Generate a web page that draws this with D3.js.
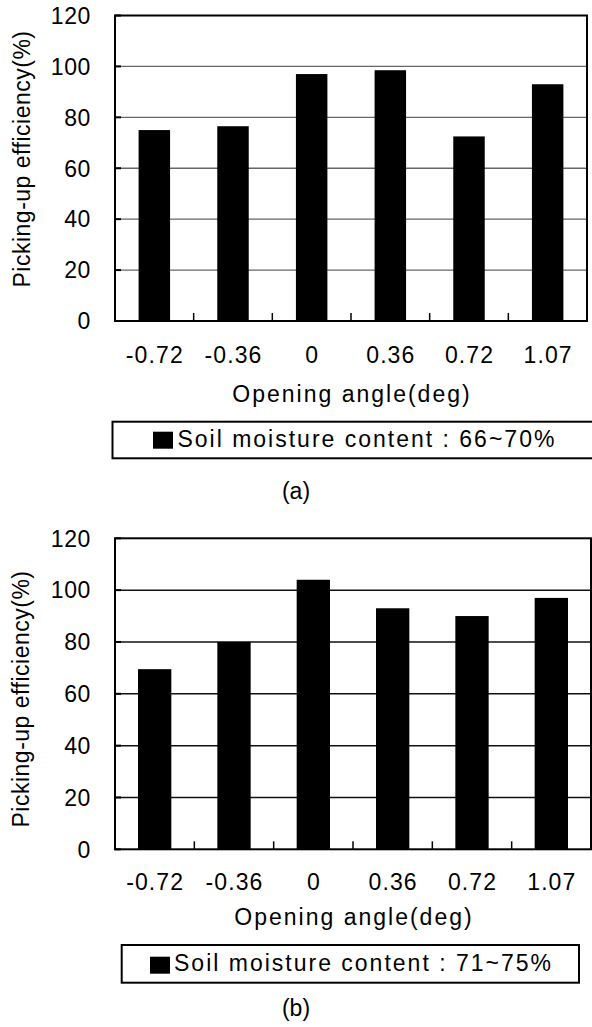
<!DOCTYPE html>
<html><head><meta charset="utf-8">
<script src="https://cdn.jsdelivr.net/npm/d3@7"></script>
<style>
body{margin:0;background:#fff}
svg{display:block}
text{font-family:"Liberation Sans",Arial,sans-serif;fill:#000}
</style>
</head><body>
<svg id="c" width="592" height="1027"></svg>
<script>
// ---- data ----
const categories = ["-0.72", "-0.36", "0", "0.36", "0.72", "1.07"];
const valuesA = [75, 76.5, 97, 98.5, 72.5, 93];
const valuesB = [69.5, 80, 104, 93, 90, 97];
const yTicks = [0, 20, 40, 60, 80, 100, 120];
const legendA = "Soil moisture content : 66~70%";
const legendB = "Soil moisture content : 71~75%";
const xTitle = "Opening angle(deg)";
const yTitle = "Picking-up efficiency(%)";
const panelLabels = ["(a)", "(b)"];

const svg = d3.select("#c");

function drawPanel(values, legendText, panelLabel, L) {
  const g = svg.append("g");
  const x = d3.scaleBand().domain(categories).range([L.left, L.right])
    .paddingInner(L.padIn).paddingOuter(L.padIn / 2);
  const y = d3.scaleLinear().domain([0, 120]).range([L.bottom, L.top]);
  const step = x.step();

  // gridlines
  g.selectAll(".grid").data(yTicks.filter(t => t > 0 && t < 120)).enter()
    .append("line")
    .attr("x1", L.left).attr("x2", L.right)
    .attr("y1", d => y(d)).attr("y2", d => y(d))
    .attr("stroke", L.grid).attr("stroke-width", L.gridW);

  // bars
  g.selectAll(".bar").data(values).enter().append("rect")
    .attr("x", (d, i) => x(categories[i]))
    .attr("y", d => y(d))
    .attr("width", x.bandwidth())
    .attr("height", d => y(0) - y(d))
    .attr("fill", "#000");

  // frame
  g.append("rect").attr("x", L.left).attr("y", L.top)
    .attr("width", L.right - L.left).attr("height", L.bottom - L.top)
    .attr("fill", "none").attr("stroke", "#000").attr("stroke-width", 2);

  // y ticks inward
  g.selectAll(".yt").data(yTicks).enter().append("line")
    .attr("x1", L.left).attr("x2", L.left + 6)
    .attr("y1", d => y(d)).attr("y2", d => y(d))
    .attr("stroke", "#000").attr("stroke-width", 2);

  // x ticks at category boundaries, inward
  g.selectAll(".xt").data(d3.range(1, categories.length)).enter().append("line")
    .attr("x1", i => L.left + i * step).attr("x2", i => L.left + i * step)
    .attr("y1", L.bottom).attr("y2", L.bottom - 8)
    .attr("stroke", "#000").attr("stroke-width", 1.5);

  // y tick labels
  g.selectAll(".yl").data(yTicks).enter().append("text")
    .attr("x", L.left - 24).attr("y", d => y(d) + 8.3)
    .attr("text-anchor", "end").attr("font-size", 23)
    .attr("letter-spacing", 0.6)
    .text(d => d);

  // x tick labels
  g.selectAll(".xl").data(categories).enter().append("text")
    .attr("x", d => x(d) + x.bandwidth() / 2 + 0.5)
    .attr("y", L.xLabelY)
    .attr("text-anchor", "middle").attr("font-size", 23)
    .attr("letter-spacing", 1.1)
    .text(d => d);

  // x title
  g.append("text").attr("x", (L.left + L.right) / 2 + 1).attr("y", L.xTitleY)
    .attr("text-anchor", "middle").attr("font-size", 23)
    .attr("letter-spacing", 2).text(xTitle);

  // y title
  g.append("text")
    .attr("transform", `translate(${L.yTitleX},${L.yTitleCY}) rotate(-90)`)
    .attr("text-anchor", "middle").attr("font-size", 23)
    .attr("letter-spacing", 0.5).text(yTitle);

  // legend
  g.append("rect").attr("x", L.legX).attr("y", L.legY)
    .attr("width", L.legW).attr("height", L.legH)
    .attr("fill", "#fff").attr("stroke", "#000").attr("stroke-width", 2);
  g.append("rect").attr("x", L.sqX).attr("y", L.sqY)
    .attr("width", 20).attr("height", 17).attr("fill", "#000");
  g.append("text").attr("x", L.legTextX).attr("y", L.legTextY)
    .attr("font-size", 23).attr("letter-spacing", 2).text(legendText);

  // panel label
  g.append("text").attr("x", L.panelX).attr("y", L.panelY)
    .attr("text-anchor", "middle").attr("font-size", 23).text(panelLabel);
}

drawPanel(valuesA, legendA, panelLabels[0], {
  left: 115, right: 587, top: 15.5, bottom: 321, padIn: 0.6,
  grid: "#666", gridW: 1.4,
  xLabelY: 362.7, xTitleY: 401.7,
  yTitleX: 30, yTitleCY: 159,
  legX: 112.5, legY: 421.7, legW: 490, legH: 36.6,
  sqX: 153, sqY: 431.7, legTextX: 177.4, legTextY: 447.3,
  panelX: 296, panelY: 499
});

drawPanel(valuesB, legendB, panelLabels[1], {
  left: 115, right: 591, top: 538.3, bottom: 849.3, padIn: 0.58,
  grid: "#111", gridW: 1.5,
  xLabelY: 890, xTitleY: 925,
  yTitleX: 29, yTitleCY: 699,
  legX: 121.7, legY: 945, legW: 457.3, legH: 37.7,
  sqX: 150, sqY: 956.7, legTextX: 174, legTextY: 971,
  panelX: 296, panelY: 1016
});
</script>
</body></html>
